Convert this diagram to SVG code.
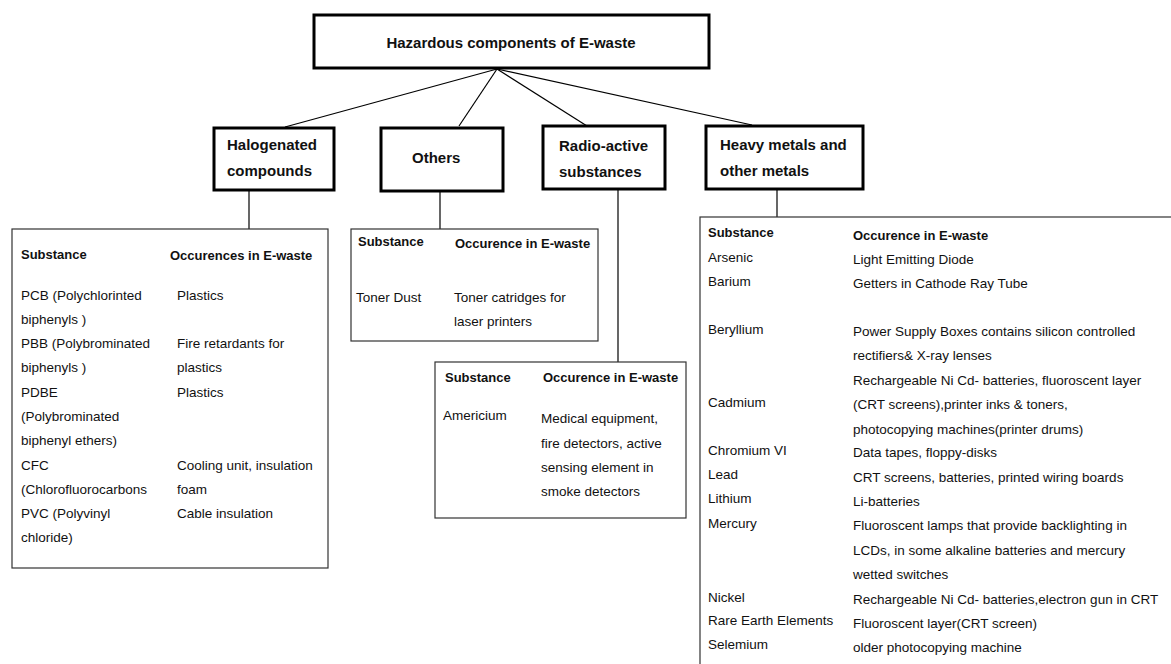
<svg xmlns="http://www.w3.org/2000/svg" width="1171" height="664" viewBox="0 0 1171 664">
<style>
text{font-family:"Liberation Sans",Arial,sans-serif;fill:#111}
.t{font-size:15px;font-weight:bold}
.h{font-size:13px;font-weight:bold}
.r{font-size:13.5px}
.box{fill:#fff;stroke:#000;stroke-width:3}
.tbl{fill:#fff;stroke:#333;stroke-width:1.2}
.c{stroke:#000;stroke-width:1.2;fill:none}
</style>
<rect width="1171" height="664" fill="#fff"/>
<g id="connectors">
<line class="c" x1="497" y1="69" x2="285" y2="127"/>
<line class="c" x1="497" y1="69" x2="459" y2="126"/>
<line class="c" x1="497" y1="69" x2="587" y2="126"/>
<line class="c" x1="497" y1="69" x2="752" y2="125"/>
<line class="c" x1="249" y1="190" x2="249" y2="229"/>
<line class="c" x1="440" y1="191" x2="440" y2="229"/>
<line class="c" x1="618" y1="189" x2="618" y2="362"/>
<line class="c" x1="777" y1="189" x2="777" y2="217"/>
</g>
<g id="root">
<rect class="box" x="314" y="15" width="395" height="53" stroke-width="4"/>
<text class="t" x="511" y="48" text-anchor="middle">Hazardous components of E-waste</text>
</g>
<g id="halogenated">
<rect class="box" x="214" y="128" width="120" height="62"/>
<text class="t" x="227" y="150">Halogenated</text>
<text class="t" x="227" y="176">compounds</text>
</g>
<g id="others">
<rect class="box" x="381" y="128" width="122" height="63"/>
<text class="t" x="412" y="163">Others</text>
</g>
<g id="radioactive">
<rect class="box" x="543" y="126" width="122" height="63"/>
<text class="t" x="559" y="151">Radio-active</text>
<text class="t" x="559" y="177">substances</text>
</g>
<g id="heavymetals">
<rect class="box" x="706" y="126" width="157" height="63"/>
<text class="t" x="720" y="150">Heavy metals and</text>
<text class="t" x="720" y="176">other metals</text>
</g>
<g id="halogenated-table">
<rect class="tbl" x="12" y="229" width="316" height="339"/>
<text class="h" x="21" y="259">Substance</text>
<text class="h" x="170" y="260">Occurences in E-waste</text>
<text class="r" x="21" y="300">PCB (Polychlorinted</text>
<text class="r" x="21" y="324">biphenyls )</text>
<text class="r" x="21" y="348">PBB (Polybrominated</text>
<text class="r" x="21" y="372">biphenyls )</text>
<text class="r" x="21" y="397">PDBE</text>
<text class="r" x="21" y="421">(Polybrominated</text>
<text class="r" x="21" y="445">biphenyl ethers)</text>
<text class="r" x="21" y="470">CFC</text>
<text class="r" x="21" y="494">(Chlorofluorocarbons</text>
<text class="r" x="21" y="518">PVC (Polyvinyl</text>
<text class="r" x="21" y="542">chloride)</text>
<text class="r" x="177" y="300">Plastics</text>
<text class="r" x="177" y="348">Fire retardants for</text>
<text class="r" x="177" y="372">plastics</text>
<text class="r" x="177" y="397">Plastics</text>
<text class="r" x="177" y="470">Cooling unit, insulation</text>
<text class="r" x="177" y="494">foam</text>
<text class="r" x="177" y="518">Cable insulation</text>
</g>
<g id="others-table">
<rect class="tbl" x="351" y="229" width="247" height="112"/>
<text class="h" x="358" y="246">Substance</text>
<text class="h" x="455" y="248">Occurence in E-waste</text>
<text class="r" x="356" y="302">Toner Dust</text>
<text class="r" x="454" y="302">Toner catridges for</text>
<text class="r" x="454" y="326">laser printers</text>
</g>
<g id="radioactive-table">
<rect class="tbl" x="435" y="362" width="251" height="156"/>
<text class="h" x="445" y="382">Substance</text>
<text class="h" x="543" y="382">Occurence in E-waste</text>
<text class="r" x="443" y="420">Americium</text>
<text class="r" x="541" y="423">Medical equipment,</text>
<text class="r" x="541" y="448">fire detectors, active</text>
<text class="r" x="541" y="472">sensing element in</text>
<text class="r" x="541" y="496">smoke detectors</text>
</g>
<g id="heavymetals-table">
<rect class="tbl" x="700" y="217" width="490" height="470"/>
<text class="h" x="708" y="237">Substance</text>
<text class="h" x="853" y="240">Occurence in E-waste</text>
<text class="r" x="708" y="262">Arsenic</text>
<text class="r" x="853" y="264">Light Emitting Diode</text>
<text class="r" x="708" y="286">Barium</text>
<text class="r" x="853" y="288">Getters in Cathode Ray Tube</text>
<text class="r" x="708" y="334">Beryllium</text>
<text class="r" x="853" y="336">Power Supply Boxes contains silicon controlled</text>
<text class="r" x="853" y="360">rectifiers&amp; X-ray lenses</text>
<text class="r" x="853" y="385">Rechargeable Ni Cd- batteries, fluoroscent layer</text>
<text class="r" x="708" y="407">Cadmium</text>
<text class="r" x="853" y="409">(CRT screens),printer inks &amp; toners,</text>
<text class="r" x="853" y="434">photocopying machines(printer drums)</text>
<text class="r" x="708" y="455">Chromium VI</text>
<text class="r" x="853" y="457">Data tapes, floppy-disks</text>
<text class="r" x="708" y="479">Lead</text>
<text class="r" x="853" y="482">CRT screens, batteries, printed wiring boards</text>
<text class="r" x="708" y="503">Lithium</text>
<text class="r" x="853" y="506">Li-batteries</text>
<text class="r" x="708" y="528">Mercury</text>
<text class="r" x="853" y="530">Fluoroscent lamps that provide backlighting in</text>
<text class="r" x="853" y="555">LCDs, in some alkaline batteries and mercury</text>
<text class="r" x="853" y="579">wetted switches</text>
<text class="r" x="708" y="602">Nickel</text>
<text class="r" x="853" y="604">Rechargeable Ni Cd- batteries,electron gun in CRT</text>
<text class="r" x="708" y="625">Rare Earth Elements</text>
<text class="r" x="853" y="628">Fluoroscent layer(CRT screen)</text>
<text class="r" x="708" y="649">Selemium</text>
<text class="r" x="853" y="652">older photocopying machine</text>
</g>
</svg>
